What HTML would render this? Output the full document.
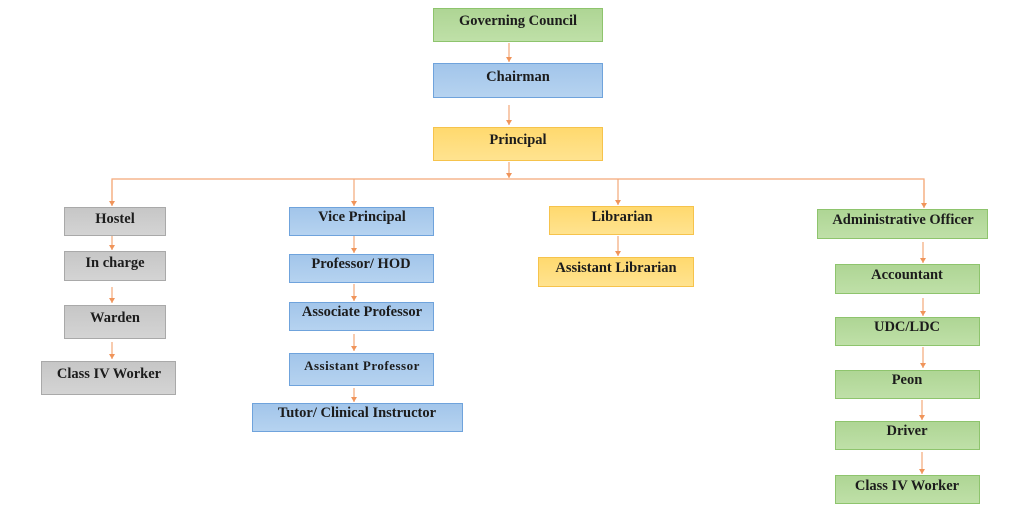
<!DOCTYPE html>
<html>
<head>
<meta charset="utf-8">
<style>
  html,body{margin:0;padding:0;background:#ffffff;}
  body{width:1024px;height:512px;overflow:hidden;}
  svg{display:block;}
  text{font-family:"Liberation Serif","Times New Roman",serif;font-weight:bold;font-size:14.5px;fill:#1c1c1c;text-anchor:middle;}
</style>
</head>
<body>
<svg width="1024" height="512" viewBox="0 0 1024 512" xmlns="http://www.w3.org/2000/svg">
  <defs>
    <linearGradient id="gG" x1="0" y1="0" x2="0" y2="1">
      <stop offset="0" stop-color="#aed594"/>
      <stop offset="1" stop-color="#bfe0a8"/>
    </linearGradient>
    <linearGradient id="gB" x1="0" y1="0" x2="0" y2="1">
      <stop offset="0" stop-color="#a2c5ea"/>
      <stop offset="1" stop-color="#b6d3f0"/>
    </linearGradient>
    <linearGradient id="gY" x1="0" y1="0" x2="0" y2="1">
      <stop offset="0" stop-color="#ffd96e"/>
      <stop offset="1" stop-color="#ffe390"/>
    </linearGradient>
    <linearGradient id="gS" x1="0" y1="0" x2="0" y2="1">
      <stop offset="0" stop-color="#c6c6c6"/>
      <stop offset="1" stop-color="#d4d4d4"/>
    </linearGradient>
    <marker id="ar" markerWidth="6" markerHeight="6" refX="5" refY="3" orient="auto" markerUnits="userSpaceOnUse">
      <path d="M0,0 L5,3 L0,6 Z" fill="#f0945a"/>
    </marker>
  </defs>

  <!-- connectors -->
  <g stroke="#f4a878" stroke-width="1.2" fill="none">
    <line x1="509" y1="43" x2="509" y2="62" marker-end="url(#ar)" />
    <line x1="509" y1="105" x2="509" y2="125" marker-end="url(#ar)" />
    <line x1="509" y1="162" x2="509" y2="178" marker-end="url(#ar)" />
    <polyline points="112,205 112,179 924,179 924,206" />
    <line x1="112" y1="180" x2="112" y2="206" marker-end="url(#ar)" />
    <line x1="924" y1="180" x2="924" y2="208" marker-end="url(#ar)" />
    <line x1="354" y1="179" x2="354" y2="206" marker-end="url(#ar)" />
    <line x1="618" y1="179" x2="618" y2="205" marker-end="url(#ar)" />
    <!-- hostel column -->
    <line x1="112" y1="236" x2="112" y2="250" marker-end="url(#ar)" />
    <line x1="112" y1="287" x2="112" y2="303" marker-end="url(#ar)" />
    <line x1="112" y1="342" x2="112" y2="359" marker-end="url(#ar)" />
    <!-- VP column -->
    <line x1="354" y1="236" x2="354" y2="253" marker-end="url(#ar)" />
    <line x1="354" y1="284" x2="354" y2="301" marker-end="url(#ar)" />
    <line x1="354" y1="334" x2="354" y2="351" marker-end="url(#ar)" />
    <line x1="354" y1="388" x2="354" y2="402" marker-end="url(#ar)" />
    <!-- librarian -->
    <line x1="618" y1="236" x2="618" y2="256" marker-end="url(#ar)" />
    <!-- admin column -->
    <line x1="923" y1="242" x2="923" y2="263" marker-end="url(#ar)" />
    <line x1="923" y1="298" x2="923" y2="316" marker-end="url(#ar)" />
    <line x1="923" y1="347" x2="923" y2="368" marker-end="url(#ar)" />
    <line x1="922" y1="400" x2="922" y2="420" marker-end="url(#ar)" />
    <line x1="922" y1="452" x2="922" y2="474" marker-end="url(#ar)" />
  </g>

  <!-- top boxes -->
  <rect x="433.5" y="8.5" width="169" height="33" fill="url(#gG)" stroke="#8ec46d" stroke-width="1"/>
  <text x="518" y="25">Governing Council</text>
  <rect x="433.5" y="63.5" width="169" height="34" fill="url(#gB)" stroke="#6fa3dc" stroke-width="1"/>
  <text x="518" y="81">Chairman</text>
  <rect x="433.5" y="127.5" width="169" height="33" fill="url(#gY)" stroke="#f6c34c" stroke-width="1"/>
  <text x="518" y="144">Principal</text>

  <!-- hostel column -->
  <rect x="64.5" y="207.5" width="101" height="28" fill="url(#gS)" stroke="#a9a9a9"/>
  <text x="115" y="223">Hostel</text>
  <rect x="64.5" y="251.5" width="101" height="29" fill="url(#gS)" stroke="#a9a9a9"/>
  <text x="115" y="267">In charge</text>
  <rect x="64.5" y="305.5" width="101" height="33" fill="url(#gS)" stroke="#a9a9a9"/>
  <text x="115" y="322">Warden</text>
  <rect x="41.5" y="361.5" width="134" height="33" fill="url(#gS)" stroke="#a9a9a9"/>
  <text x="109" y="378">Class IV Worker</text>

  <!-- VP column -->
  <rect x="289.5" y="207.5" width="144" height="28" fill="url(#gB)" stroke="#6fa3dc"/>
  <text x="362" y="221">Vice Principal</text>
  <rect x="289.5" y="254.5" width="144" height="28" fill="url(#gB)" stroke="#6fa3dc"/>
  <text x="361" y="268">Professor/ HOD</text>
  <rect x="289.5" y="302.5" width="144" height="28" fill="url(#gB)" stroke="#6fa3dc"/>
  <text x="362" y="316">Associate Professor</text>
  <rect x="289.5" y="353.5" width="144" height="32" fill="url(#gB)" stroke="#6fa3dc"/>
  <text x="362" y="370" style="font-size:13px;letter-spacing:0.5px">Assistant Professor</text>
  <rect x="252.5" y="403.5" width="210" height="28" fill="url(#gB)" stroke="#6fa3dc"/>
  <text x="357" y="417">Tutor/ Clinical Instructor</text>

  <!-- librarian column -->
  <rect x="549.5" y="206.5" width="144" height="28" fill="url(#gY)" stroke="#f6c34c"/>
  <text x="622" y="221">Librarian</text>
  <rect x="538.5" y="257.5" width="155" height="29" fill="url(#gY)" stroke="#f6c34c"/>
  <text x="616" y="272">Assistant Librarian</text>

  <!-- admin column -->
  <rect x="817.5" y="209.5" width="170" height="29" fill="url(#gG)" stroke="#8ec46d"/>
  <text x="903" y="224">Administrative Officer</text>
  <rect x="835.5" y="264.5" width="144" height="29" fill="url(#gG)" stroke="#8ec46d"/>
  <text x="907" y="279">Accountant</text>
  <rect x="835.5" y="317.5" width="144" height="28" fill="url(#gG)" stroke="#8ec46d"/>
  <text x="907" y="331">UDC/LDC</text>
  <rect x="835.5" y="370.5" width="144" height="28" fill="url(#gG)" stroke="#8ec46d"/>
  <text x="907" y="384">Peon</text>
  <rect x="835.5" y="421.5" width="144" height="28" fill="url(#gG)" stroke="#8ec46d"/>
  <text x="907" y="435">Driver</text>
  <rect x="835.5" y="475.5" width="144" height="28" fill="url(#gG)" stroke="#8ec46d"/>
  <text x="907" y="490">Class IV Worker</text>
</svg>
</body>
</html>
